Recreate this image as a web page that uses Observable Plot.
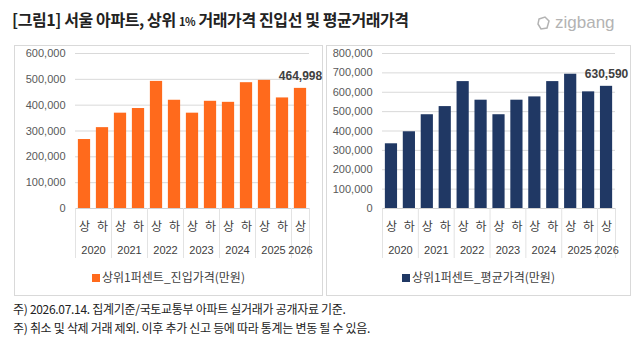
<!DOCTYPE html>
<html><head><meta charset="utf-8">
<script src="https://cdn.jsdelivr.net/npm/d3@7"></script>
<script src="https://cdn.jsdelivr.net/npm/@observablehq/plot@0.6"></script>
<style>
body{margin:0;background:#fff;font-family:"Liberation Sans","Noto Sans CJK KR",sans-serif;}
#wrap{position:relative;width:640px;height:351px;overflow:hidden;}
#title{position:absolute;left:12px;top:7px;font-size:16px;font-weight:bold;color:#222;font-family:"Noto Sans CJK KR",sans-serif;letter-spacing:-0.4px;white-space:nowrap;}
#title .pct{font-size:11px;}
#logo{position:absolute;left:536px;top:13px;color:#b3b3b3;font-size:17px;font-family:"Liberation Sans",sans-serif;display:flex;align-items:center;gap:3px;}
.panel{position:absolute;top:45px;height:251px;border:1px solid #d9d9d9;box-sizing:border-box;}
.panel svg{position:absolute;left:0;top:0;overflow:visible;}
.legend{position:absolute;left:0;right:0;top:222px;text-align:center;font-size:12px;color:#404040;font-family:"Noto Sans CJK KR",sans-serif;white-space:nowrap;}
.legend i{display:inline-block;width:8px;height:8px;margin-right:2px;vertical-align:0px;}
.note{position:absolute;left:13px;font-size:12px;color:#222;font-family:"Noto Sans CJK KR",sans-serif;white-space:nowrap;letter-spacing:-0.3px;}
</style></head>
<body>
<div id="wrap">
  <div id="title">[그림1] 서울 아파트, 상위 <span class="pct">1%</span> 거래가격 진입선 및 평균거래가격</div>
  <div id="logo"><svg width="16" height="16" viewBox="0 0 16 16"><path d="M3 4 L9 2 L13 6 L11 13 L5 14 L2 9 Z" fill="none" stroke="#b3b3b3" stroke-width="1.5"/></svg><span>zigbang</span></div>
  <div class="panel" id="p1" style="left:14px;width:309px;"><div class="legend" id="lg1"></div></div>
  <div class="panel" id="p2" style="left:326px;width:305px;"><div class="legend" id="lg2"></div></div>
  <div class="note" style="top:300px;">주) 2026.07.14. 집계기준/국토교통부 아파트 실거래가 공개자료 기준.</div>
  <div class="note" style="top:319px;">주) 취소 및 삭제 거래 제외. 이후 추가 신고 등에 따라 통계는 변동 될 수 있음.</div>
</div>
<script>
const halves = ["상","하","상","하","상","하","상","하","상","하","상","하","상"];
const years = ["2020","2020","2021","2021","2022","2022","2023","2023","2024","2024","2025","2025","2026"];
const entryPrice = [267000, 313000, 369000, 387000, 492000, 419000, 369000, 415000, 411000, 487000, 496000, 428000, 464998];
const avgPrice = [334000, 396000, 484000, 526000, 655000, 559000, 484000, 559000, 576000, 655000, 693000, 602000, 630590];
const entryLabel = "상위1퍼센트_진입가격(만원)";
const avgLabel = "상위1퍼센트_평균가격(만원)";
const entryColor = "#FF6A1C";
const avgColor = "#203864";

function makeChart(values, color, yMax, cfg) {
  const rows = values.map((v, i) => ({i, value: v, half: halves[i], year: years[i]}));
  const groups = d3.groups(rows, d => d.year).map(([year, rs]) => ({
    year, center: d3.mean(rs, r => r.i), start: d3.min(rs, r => r.i) - 0.5, end: d3.max(rs, r => r.i) + 0.5
  }));
  const bounds = Array.from(new Set(groups.flatMap(g => [g.start, g.end])));
  const ticks = d3.range(0, yMax + 1, 100000);
  const last = rows[rows.length - 1];
  return Plot.plot({
    width: cfg.width, height: 212,
    marginLeft: cfg.marginLeft, marginRight: cfg.marginRight, marginTop: 7, marginBottom: 50,
    style: {fontFamily: "Liberation Sans, Noto Sans CJK KR, sans-serif", fontSize: "11px", color: "#595959", background: "transparent", overflow: "visible"},
    x: {type: "linear", domain: [-0.5, rows.length - 0.5], axis: null},
    y: {domain: [0, yMax], ticks, tickFormat: d3.format(","), tickSize: 0, tickPadding: 10, label: null},
    marks: [
      Plot.ruleY(ticks.filter(t => t > 0), {stroke: "#d9d9d9", strokeWidth: 1}),
      Plot.rectY(rows, {x1: d => d.i - 0.34, x2: d => d.i + 0.34, y1: () => 0, y2: "value", fill: color}),
      Plot.ruleY([0], {stroke: "#d0d0d0"}),
      Plot.ruleX(bounds, {x: d => d, y1: () => 0, y2: () => 0, insetBottom: -50, stroke: "#e3e3e3"}),
      Plot.text(rows, {x: "i", y: () => 0, text: "half", dy: 18.5, fontSize: 12, fill: "#404040", fontFamily: "Noto Sans CJK KR, sans-serif"}),
      Plot.text(groups, {x: "center", y: () => 0, text: "year", dy: 42, fontSize: 11, fill: "#404040"}),
      Plot.text([last], {x: "i", y: "value", text: d => d3.format(",")(d.value), dy: -12, fontSize: 12, fontWeight: "bold", fill: "#404040"})
    ]
  });
}

document.getElementById("p1").prepend(makeChart(entryPrice, entryColor, 600000, {width: 307, marginLeft: 60, marginRight: 13}));
document.getElementById("p2").prepend(makeChart(avgPrice, avgColor, 800000, {width: 303, marginLeft: 55, marginRight: 15}));
document.getElementById("lg1").innerHTML = `<i style="background:${entryColor}"></i>${entryLabel}`;
document.getElementById("lg2").innerHTML = `<i style="background:${avgColor}"></i>${avgLabel}`;
</script>
</body></html>
